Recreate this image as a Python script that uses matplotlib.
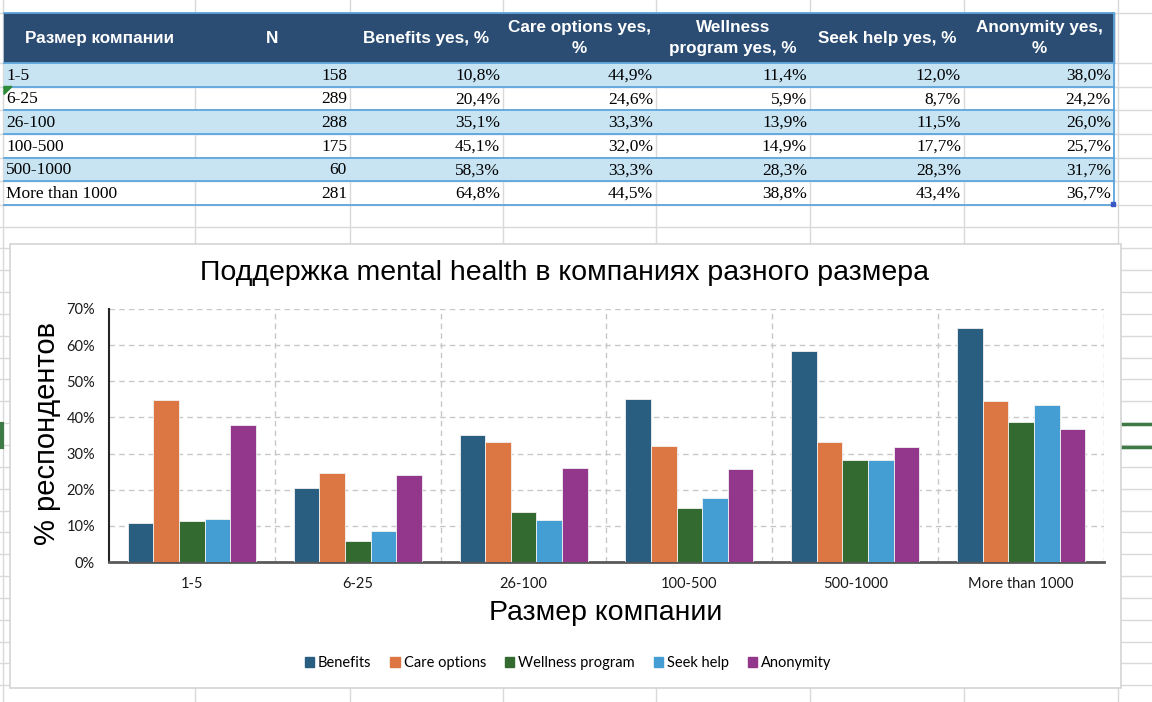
import numpy as np
import matplotlib
matplotlib.use("Agg")
import matplotlib.pyplot as plt
from matplotlib.patches import Rectangle, Patch, Polygon
from matplotlib.ticker import PercentFormatter

# data from the sheet
sizes = ["1-5", "6-25", "26-100", "100-500", "500-1000", "More than 1000"]
n_resp = [158, 289, 288, 175, 60, 281]
benefits = [10.8, 20.4, 35.1, 45.1, 58.3, 64.8]
care_options = [44.9, 24.6, 33.3, 32.0, 33.3, 44.5]
wellness = [11.4, 5.9, 13.9, 14.9, 28.3, 38.8]
seek_help = [12.0, 8.7, 11.5, 17.7, 28.3, 43.4]
anonymity = [38.0, 24.2, 26.0, 25.7, 31.7, 36.7]

headers = ["Размер компании", "N", "Benefits yes, %", "Care options yes,\n%",
           "Wellness\nprogram yes, %", "Seek help yes, %", "Anonymity yes,\n%"]
series_names = ["Benefits", "Care options", "Wellness program", "Seek help", "Anonymity"]
series = [benefits, care_options, wellness, seek_help, anonymity]
colors = ["#2a5e80", "#dc7743", "#336a2f", "#449ed3", "#92378b"]

fig = plt.figure(figsize=(11.52, 7.02), dpi=100)

# spreadsheet background in pixel coordinates
sheet = fig.add_axes([0, 0, 1, 1])
sheet.set_xlim(0, 1152)
sheet.set_ylim(702, 0)
sheet.axis("off")

col_edges = [4, 195, 350, 503, 656, 810, 964, 1114]
row_edges = [12.5, 63, 86.5, 110, 134, 157.5, 181, 205]
grid_x = [3, 195, 350, 503, 656, 810, 964, 1118]
grid_y = [12.5] + row_edges[1:] + list(np.arange(226.5, 702, 21.85))

for x in grid_x:
    sheet.plot([x, x], [0, 702], color="#d9d9d9", lw=1, zorder=1)
for y in grid_y:
    sheet.plot([0, 1152], [y, y], color="#d9d9d9", lw=1, zorder=1)

# header row
sheet.add_patch(Rectangle((col_edges[0], row_edges[0]), col_edges[-1] - col_edges[0],
                          row_edges[1] - row_edges[0], color="#2b4d74", zorder=2))
for i, h in enumerate(headers):
    cx = (col_edges[i] + col_edges[i + 1]) / 2
    sheet.text(cx, (row_edges[0] + row_edges[1]) / 2 + 0.5, h, color="white",
               fontsize=12.3, fontweight="bold", family="Liberation Sans",
               ha="center", va="center", linespacing=1.5, zorder=4)

# body rows
for r in range(len(sizes)):
    y0, y1 = row_edges[r + 1], row_edges[r + 2]
    if r % 2 == 0:
        sheet.add_patch(Rectangle((col_edges[0], y0), col_edges[-1] - col_edges[0],
                                  y1 - y0, color="#c8e4f3", zorder=2))
    cy = (y0 + y1) / 2 + 1
    sheet.text(col_edges[0] + 2, cy, sizes[r], fontsize=12.5, family="Liberation Serif",
               ha="left", va="center", zorder=4)
    vals = [str(n_resp[r])] + [f"{s[r]:.1f}%".replace(".", ",") for s in series]
    for c, v in enumerate(vals):
        sheet.text(col_edges[c + 2] - 3, cy, v, fontsize=12.5, family="Liberation Serif",
                   ha="right", va="center", zorder=4)

for y in row_edges:
    sheet.plot([col_edges[0], col_edges[-1]], [y, y], color="#5da5dc", lw=1.3, zorder=3)
sheet.plot([col_edges[-1], col_edges[-1]], [row_edges[0], row_edges[-1]], color="#5da5dc",
           lw=1.3, zorder=3)
sheet.add_patch(Polygon([[4, 86.5], [12, 86.5], [4, 94.5]], color="#2e8b3a", zorder=5))
sheet.add_patch(Rectangle((1111, 201.5), 4, 4, color="#3b57c4", zorder=5))

# selection marks
sheet.plot([1122, 1152], [423.5, 423.5], color="#3d7a45", lw=2.5, zorder=2)
sheet.plot([1122, 1152], [447, 447], color="#3d7a45", lw=2.5, zorder=2)
sheet.plot([1.5, 1.5], [423.5, 447], color="#3d7a45", lw=3, zorder=2)

# chart box
sheet.add_patch(Rectangle((9.5, 244), 1111, 444, facecolor="white",
                          edgecolor="#d4d4d4", lw=1.2, zorder=6))

sheet.text(565, 273, "Поддержка mental health в компаниях разного размера",
           fontsize=20.5, family="Liberation Sans", ha="center", va="center", zorder=7)
sheet.text(606, 613, "Размер компании", fontsize=20.5, family="Liberation Sans",
           ha="center", va="center", zorder=7)
sheet.text(47, 433, "% респондентов", fontsize=21, family="Liberation Sans",
           rotation=90, ha="center", va="center", zorder=7)

# bar chart
ax = fig.add_axes([109 / 1152, 1 - 562 / 702, 995 / 1152, 253 / 702], zorder=8)
ax.patch.set_alpha(0)
x = np.arange(len(sizes))
w = 0.1545
for i, (name, s) in enumerate(zip(series_names, series)):
    ax.bar(x + (i - 2) * w, np.array(s) / 100, width=w, color=colors[i],
           edgecolor="#f2f2f2", linewidth=0.6, label=name, zorder=3)

ax.set_xlim(-0.5, len(sizes) - 0.5)
ax.set_ylim(0, 0.70)
ax.set_yticks(np.arange(0, 0.71, 0.1))
ax.yaxis.set_major_formatter(PercentFormatter(1.0, decimals=0))
ax.set_xticks(x)
ax.set_xticklabels(sizes)
ax.tick_params(length=0, labelsize=10.5, colors="#1a1a1a")
ax.tick_params(axis="x", pad=11)
ax.tick_params(axis="y", pad=10)
for lbl in ax.get_xticklabels() + ax.get_yticklabels():
    lbl.set_family("Lato")

for yv in np.arange(0.1, 0.71, 0.1):
    ax.axhline(yv, color="#c8c8c8", lw=1, ls=(0, (4, 3)), zorder=1)
for xv in np.arange(0.5, len(sizes), 1.0):
    ax.axvline(xv, color="#c8c8c8", lw=1, ls=(0, (4, 3)), zorder=1)

for side in ["top", "right"]:
    ax.spines[side].set_visible(False)
ax.spines["left"].set_color("#262626")
ax.spines["left"].set_linewidth(1.5)
ax.spines["bottom"].set_color("#595959")
ax.spines["bottom"].set_linewidth(2)

handles = [Patch(color=c, label=nm) for c, nm in zip(colors, series_names)]
leg = fig.legend(handles=handles, ncol=5, loc="center", frameon=False,
                 bbox_to_anchor=(568 / 1152, 1 - 663 / 702),
                 handlelength=0.65, handleheight=0.65, handletextpad=0.25,
                 columnspacing=1.3, prop={"family": "Lato", "size": 10.5})
leg.set_zorder(9)

fig.savefig("out.png", dpi=100)
